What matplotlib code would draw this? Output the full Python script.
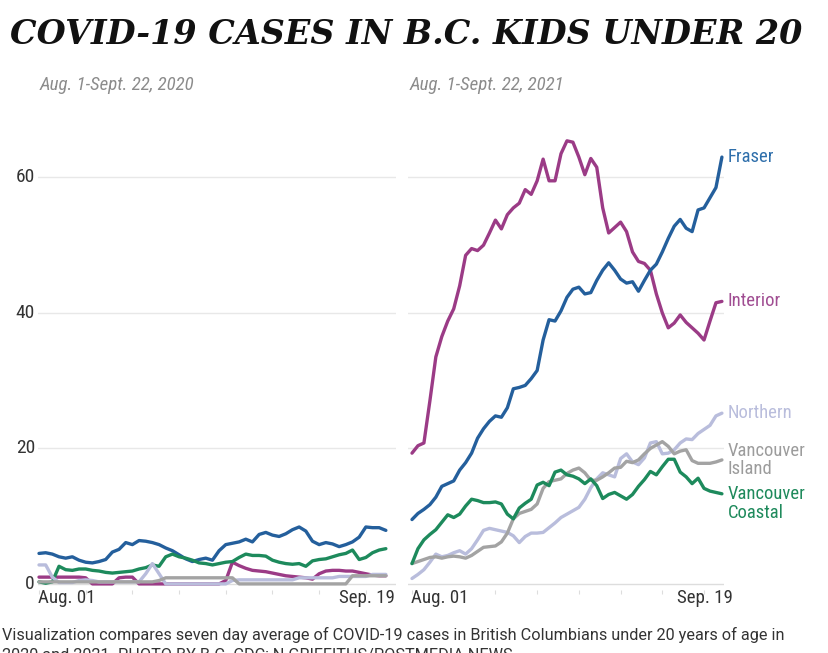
import matplotlib
matplotlib.use("Agg")
import matplotlib.pyplot as plt
from matplotlib import font_manager

W, H = 829, 653
days = list(range(53))

# ---- 2020 (Aug 1 - Sep 22) ----
fraser_2020 = [4.5, 4.6, 4.4, 4.0, 3.8, 4.0, 3.5, 3.2, 3.1, 3.3, 3.6, 4.7, 5.1, 6.1, 5.8, 6.4, 6.3, 6.1,
               5.8, 5.3, 4.9, 4.3, 3.7, 3.3, 3.6, 3.8, 3.5, 4.9, 5.8, 6.0, 6.2, 6.6, 6.2, 7.3, 7.6, 7.2,
               7.0, 7.4, 8.0, 8.4, 7.8, 6.3, 5.8, 6.1, 5.9, 5.5, 5.8, 6.2, 6.9, 8.4, 8.3, 8.3, 7.9]
interior_2020 = [1.0, 1.0, 1.0, 1.0, 1.0, 1.0, 1.0, 0.9, 0.0, 0.0, 0.0, 0.0, 0.9, 1.0, 1.0, 0.0, 0.0, 0.0,
                 0.0, 0.0, 0.0, 0.0, 0.0, 0.0, 0.0, 0.0, 0.0, 0.0, 0.5, 3.2, 2.7, 2.3, 2.0, 1.9, 1.8, 1.6,
                 1.4, 1.2, 1.1, 1.0, 0.9, 0.7, 1.5, 1.9, 2.0, 2.0, 1.9, 1.9, 1.7, 1.5, 1.3, 1.2, 1.2]
northern_2020 = [2.8, 2.8, 1.0, 0.2, 0.2, 0.2, 0.5, 0.6, 0.5, 0.3, 0.3, 0.3, 0.3, 0.3, 0.3, 0.3, 1.5, 3.0,
                 1.5, 0.0, 0.0, 0.0, 0.0, 0.0, 0.0, 0.0, 0.0, 0.0, 0.0, 0.5, 0.6, 0.6, 0.6, 0.6, 0.6, 0.6,
                 0.6, 0.6, 0.6, 0.9, 0.9, 0.9, 0.9, 0.9, 0.9, 1.1, 1.1, 1.1, 1.1, 1.1, 1.4, 1.4, 1.4]
island_2020 = [0.3, 0.3, 0.3, 0.3, 0.3, 0.3, 0.3, 0.3, 0.3, 0.3, 0.3, 0.3, 0.3, 0.3, 0.3, 0.3, 0.3, 0.3,
               0.5, 0.9, 0.9, 0.9, 0.9, 0.9, 0.9, 0.9, 0.9, 0.9, 0.9, 0.9, 0.0, 0.0, 0.0, 0.0, 0.0, 0.0,
               0.0, 0.0, 0.0, 0.0, 0.0, 0.0, 0.0, 0.0, 0.0, 0.0, 0.0, 1.2, 1.2, 1.2, 1.2, 1.2, 1.2]
coastal_2020 = [0.3, 0.1, 0.3, 2.6, 2.1, 2.0, 2.2, 2.2, 2.0, 1.9, 1.7, 1.6, 1.7, 1.8, 1.9, 2.2, 2.4, 2.8,
                2.6, 4.0, 4.4, 4.0, 3.8, 3.5, 3.1, 3.0, 2.8, 3.0, 3.2, 3.3, 3.9, 4.4, 4.2, 4.2, 4.1, 3.5,
                3.2, 3.0, 2.9, 3.0, 2.6, 3.4, 3.6, 3.7, 4.0, 4.3, 4.5, 5.0, 3.6, 3.9, 4.6, 5.0, 5.2]

# ---- 2021 (Aug 1 - Sep 22) ----
fraser_2021 = [9.5, 10.4, 11.0, 11.7, 12.8, 14.4, 14.8, 15.2, 16.8, 17.9, 19.3, 21.5, 22.9, 24.0, 24.8,
               24.6, 26.0, 28.8, 29.0, 29.3, 30.3, 31.5, 36.0, 39.0, 38.8, 40.3, 42.3, 43.5, 43.8, 42.8,
               43.0, 44.8, 46.3, 47.4, 46.3, 45.0, 44.4, 44.6, 43.2, 44.8, 46.3, 47.2, 49.0, 51.0, 52.8,
               53.8, 52.5, 52.0, 55.2, 55.5, 57.0, 58.5, 63.0]
interior_2021 = [19.3, 20.4, 20.8, 27.0, 33.5, 36.5, 38.8, 40.6, 44.0, 48.5, 49.5, 49.2, 50.0, 51.8, 53.7,
                 52.4, 54.5, 55.5, 56.2, 58.2, 57.5, 59.5, 62.7, 59.5, 59.5, 63.5, 65.4, 65.2, 63.0, 60.4,
                 62.8, 61.5, 55.5, 51.8, 52.6, 53.4, 52.0, 49.0, 47.6, 47.3, 46.3, 42.8, 40.0, 37.8, 38.5,
                 39.7, 38.6, 37.8, 37.0, 36.0, 38.8, 41.5, 41.7]
northern_2021 = [0.8, 1.4, 2.1, 3.2, 4.4, 4.0, 4.2, 4.6, 4.9, 4.4, 5.2, 6.5, 7.9, 8.2, 8.0, 7.8, 7.6, 7.1,
                 6.1, 7.0, 7.5, 7.5, 7.6, 8.3, 9.0, 9.8, 10.3, 10.8, 11.3, 12.5, 14.2, 15.5, 16.4, 16.1,
                 15.8, 18.5, 19.2, 18.0, 17.6, 18.6, 20.8, 21.0, 19.2, 19.3, 19.8, 20.8, 21.4, 21.3, 22.2,
                 22.8, 23.4, 24.8, 25.2]
island_2021 = [3.0, 3.3, 3.6, 3.9, 4.0, 3.8, 4.0, 4.1, 4.0, 3.8, 4.2, 4.8, 5.4, 5.5, 5.6, 6.2, 7.5, 9.6,
               10.4, 10.7, 11.0, 11.8, 14.1, 15.1, 15.3, 15.5, 16.3, 16.8, 17.1, 16.4, 15.3, 15.3, 15.8,
               16.4, 17.1, 17.2, 18.1, 17.9, 18.3, 19.2, 20.0, 20.5, 21.0, 20.3, 19.2, 19.6, 19.8, 18.2,
               17.8, 17.8, 17.8, 18.0, 18.3]
coastal_2021 = [3.0, 5.2, 6.5, 7.3, 8.0, 9.1, 10.2, 9.8, 10.3, 11.5, 12.5, 12.3, 12.0, 12.0, 12.1, 11.8,
                10.3, 9.6, 11.2, 11.9, 12.5, 14.6, 15.0, 14.5, 16.5, 16.8, 16.1, 15.9, 15.5, 14.8, 15.5,
                14.5, 12.6, 13.2, 13.5, 13.0, 12.5, 13.2, 14.4, 15.4, 16.6, 16.1, 17.3, 18.4, 18.4, 16.5,
                15.8, 14.8, 15.6, 14.1, 13.7, 13.5, 13.3]

region_names = ["Fraser", "Interior", "Northern", "Vancouver\nIsland", "Vancouver\nCoastal"]
region_colors = ["#245f9c", "#9b3b86", "#b9bddc", "#a3a3a3", "#1d8a5c"]
label_colors = ["#2f6fab", "#a04d92", "#b9bddc", "#9c9c9c", "#1f8a5c"]

yticks = [0, 20, 40, 60]
week_ticks = [0, 7, 14, 21, 28, 35, 42, 49]
tick_labels = ["Aug. 01", "Sep. 19"]

title = "COVID-19 CASES IN B.C. KIDS UNDER 20"
subtitles = ["Aug. 1-Sept. 22, 2020", "Aug. 1-Sept. 22, 2021"]
caption1 = ("Visualization compares seven day average of COVID-19 cases in British Columbians "
            "under 20 years of age in")
caption2 = "2020 and 2021. PHOTO BY B.C. CDC; N GRIFFITHS/POSTMEDIA NEWS"

# choose a condensed family if one is installed
available = {f.name for f in font_manager.fontManager.ttflist}
cond_name = None
for cand in ["Roboto Condensed", "DejaVu Sans Condensed", "Liberation Sans Narrow",
             "Open Sans Condensed", "Noto Sans Condensed"]:
    if cand in available:
        cond_name = cand
        break
if cond_name is None:
    COND = ["DejaVu Sans"]
    SCALE = 0.86
else:
    COND = [cond_name, "DejaVu Sans"]
    SCALE = 1.0

fig = plt.figure(figsize=(W / 100, H / 100), dpi=100)
fig.patch.set_facecolor("white")


def fx(x):
    return x / W


def fy(y):
    return 1 - y / H


y_top, y_bot = 130, 590
ylo, yhi = -0.9, 67.0

axL = fig.add_axes([fx(38), fy(y_bot), fx(396 - 38), (y_bot - y_top) / H])
axR = fig.add_axes([fx(408), fy(y_bot), fx(724 - 408), (y_bot - y_top) / H])
axL.set_xlim(-0.15, 53.52)
axR.set_xlim(-0.67, 52.35)

series_2020 = [fraser_2020, interior_2020, northern_2020, island_2020, coastal_2020]
series_2021 = [fraser_2021, interior_2021, northern_2021, island_2021, coastal_2021]

for ax in (axL, axR):
    ax.set_ylim(ylo, yhi)
    for s in ax.spines.values():
        s.set_visible(False)
    ax.set_yticks([])
    for g in yticks[1:]:
        ax.axhline(g, color="#e8e8e8", lw=1.0, zorder=0)
    ax.axhline(0, color="#dddddd", lw=1.0, zorder=0)
    ax.set_xticks(week_ticks)
    ax.tick_params(axis="x", length=3, width=0.8, color="#dddddd", labelbottom=False, pad=0)
    ax.set_facecolor("none")

order_2020 = [1, 0, 4, 2, 3]
for i in order_2020:
    axL.plot(days, series_2020[i], color=region_colors[i], lw=2.4, solid_joinstyle="round",
             solid_capstyle="round", clip_on=False, zorder=3)

order_2021 = [1, 0, 2, 3, 4]
for i in order_2021:
    axR.plot(days, series_2021[i], color=region_colors[i], lw=2.4, solid_joinstyle="round",
             solid_capstyle="round", clip_on=False, zorder=3)

# end labels (right panel)
offsets = [0, 0, 0, 0, -6.8]
for i, s in enumerate(series_2021):
    axR.annotate(region_names[i], xy=(days[-1], s[-1]), xytext=(4, offsets[i]),
                 textcoords="offset points", va="center", ha="left", fontsize=13.4 * SCALE,
                 color=label_colors[i], family=COND, linespacing=1.05, annotation_clip=False)

# y tick labels
for v in yticks:
    axL.text(-0.6, v, str(v), transform=axL.transData, ha="right", va="center",
             fontsize=14 * SCALE, color="#333333", family=COND)

# x tick labels
for ax in (axL, axR):
    ax.annotate(tick_labels[0], xy=(0, 0), xytext=(-1, -10), textcoords="offset points",
                ha="left", va="center", fontsize=13.6 * SCALE, color="#333333", family=COND,
                annotation_clip=False)
    ax.annotate(tick_labels[1], xy=(49, 0), xytext=(1, -10), textcoords="offset points",
                ha="center", va="center", fontsize=13.6 * SCALE, color="#333333", family=COND,
                annotation_clip=False)

# title and subtitles
fig.text(fx(10), fy(35), title, ha="left", va="center", fontsize=24, fontweight="bold",
         fontstyle="italic", family="DejaVu Serif", color="#111111")
fig.text(fx(40), fy(85), subtitles[0], ha="left", va="center", fontsize=13.6 * SCALE,
         fontstyle="italic", family=COND, color="#8c8c8c")
fig.text(fx(410), fy(85), subtitles[1], ha="left", va="center", fontsize=13.6 * SCALE,
         fontstyle="italic", family=COND, color="#8c8c8c")

# caption
fig.text(fx(2), fy(635), caption1, ha="left", va="center", fontsize=11.7, family="Roboto",
         color="#333333")
fig.text(fx(2), fy(655), caption2, ha="left", va="center", fontsize=11.7, family="Roboto",
         color="#333333")

fig.savefig("out.png", dpi=100, facecolor="white")
